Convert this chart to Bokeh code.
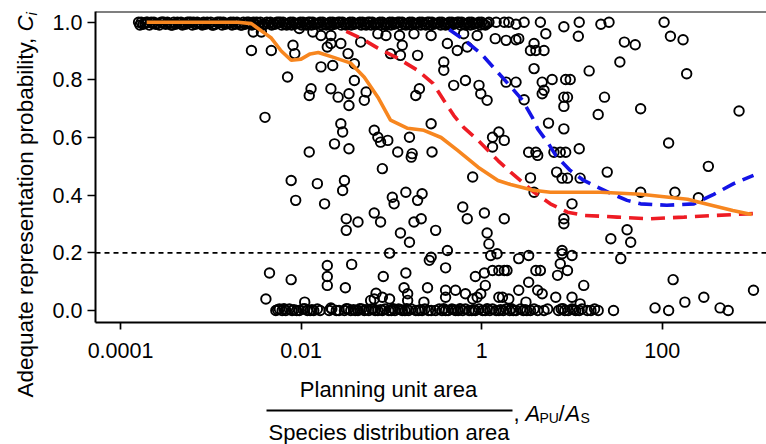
import numpy as np
from bokeh.plotting import figure
from bokeh.layouts import row, column
from bokeh.models import (ColumnDataSource, Range1d, FixedTicker, CustomJSTickFormatter, Span)
from bokeh.core.properties import value
from bokeh.embed import file_html
from bokeh.resources import INLINE

# ---------------- data (log10 of A_PU/A_S, probability C_i) ----------------
top_band = [
    (-3.80, 1.0), (-3.77, 1.0), (-3.73, 0.996), (-3.70, 1.0), (-3.66, 1.0), (-3.63, 1.0),
    (-3.59, 0.996), (-3.55, 1.0), (-3.52, 1.0), (-3.48, 1.0), (-3.44, 0.99), (-3.41, 1.0),
    (-3.37, 1.0), (-3.33, 1.0), (-3.30, 0.996), (-3.26, 1.0), (-3.22, 1.0), (-3.19, 1.0),
    (-3.15, 1.0), (-3.11, 0.996), (-3.08, 1.0), (-3.04, 1.0), (-3.00, 1.0), (-2.97, 0.99),
    (-2.93, 1.0), (-2.89, 1.0), (-2.86, 1.0), (-2.82, 0.996), (-2.78, 1.0), (-2.75, 1.0),
    (-2.71, 1.0), (-2.67, 0.99), (-2.64, 1.0), (-2.60, 1.0), (-2.56, 0.996), (-2.53, 1.0),
    (-2.49, 1.0), (-2.45, 1.0), (-2.42, 0.99), (-2.38, 1.0), (-2.34, 1.0), (-2.31, 0.996),
    (-2.27, 1.0), (-2.23, 1.0), (-2.20, 1.0), (-2.16, 0.99), (-2.12, 1.0), (-2.09, 1.0),
    (-2.05, 0.996), (-2.01, 1.0), (-1.98, 1.0), (-1.94, 0.99), (-1.90, 1.0), (-1.87, 1.0),
    (-1.83, 0.996), (-1.79, 1.0), (-1.76, 1.0), (-1.72, 0.99), (-1.68, 1.0), (-1.65, 1.0),
    (-1.61, 0.996), (-1.57, 1.0), (-1.54, 1.0), (-1.50, 0.99), (-1.46, 1.0), (-1.43, 1.0),
    (-1.39, 0.996), (-1.35, 1.0), (-1.32, 1.0), (-1.28, 0.99), (-1.24, 1.0), (-1.21, 1.0),
    (-1.17, 0.996), (-1.13, 1.0), (-1.10, 1.0), (-1.06, 0.99), (-1.02, 1.0), (-0.99, 1.0),
    (-0.95, 0.996), (-0.91, 1.0), (-0.88, 1.0), (-0.84, 0.99), (-0.80, 1.0), (-0.77, 1.0),
    (-0.73, 0.996), (-0.69, 1.0), (-0.66, 1.0), (-0.62, 0.99), (-0.58, 1.0), (-0.55, 1.0),
    (-0.51, 0.996), (-0.47, 1.0), (-0.44, 1.0), (-0.40, 0.99), (-0.36, 1.0), (-0.33, 1.0),
    (-0.29, 0.996), (-0.25, 1.0), (-0.22, 1.0), (-0.18, 0.99), (-0.14, 1.0), (-0.11, 1.0),
    (-0.07, 0.996), (-0.03, 1.0), (0.00, 1.0), (0.04, 0.99), (0.08, 1.0), (0.16, 1.0),
]

top_band_overlap = [
    (-3.785, 0.99), (-3.75, 0.993), (-3.715, 1.0), (-3.68, 0.99), (-3.645, 0.996), (-3.61, 0.993),
    (-3.57, 0.99), (-3.535, 1.0), (-3.50, 0.993), (-3.46, 0.996), (-3.425, 0.99), (-3.39, 0.993),
    (-3.35, 0.996), (-3.315, 0.99), (-3.28, 0.993), (-3.24, 1.0), (-3.205, 0.99), (-3.17, 0.993),
    (-3.13, 0.996), (-3.095, 0.99), (-3.06, 0.993), (-3.02, 0.996), (-2.985, 0.99), (-2.95, 0.993),
    (-2.91, 1.0), (-2.875, 0.99), (-2.84, 0.993), (-2.80, 0.996), (-2.765, 0.99), (-2.73, 0.993),
    (-2.69, 0.996), (-2.655, 0.99), (-2.62, 0.993), (-2.58, 1.0), (-2.545, 0.99), (-2.51, 0.993),
    (-2.47, 0.996), (-2.435, 0.99), (-2.40, 0.993), (-2.36, 0.996), (-2.325, 0.99), (-2.29, 0.993),
    (-2.25, 1.0), (-2.215, 0.99), (-2.18, 0.993), (-2.14, 0.996), (-2.105, 0.99), (-2.07, 0.993),
    (-2.03, 0.996), (-1.995, 0.99), (-1.96, 0.993), (-1.92, 1.0), (-1.885, 0.99), (-1.85, 0.993),
    (-1.81, 0.996), (-1.775, 0.99), (-1.74, 0.993), (-1.70, 0.996), (-1.665, 0.99), (-1.63, 0.993),
    (-1.59, 1.0), (-1.555, 0.99), (-1.52, 0.993), (-1.48, 0.996), (-1.445, 0.99), (-1.41, 0.993),
    (-1.37, 0.996), (-1.335, 0.99), (-1.30, 0.993), (-1.26, 1.0), (-1.225, 0.99), (-1.19, 0.993),
    (-1.15, 0.996), (-1.115, 0.99), (-1.08, 0.993), (-1.04, 0.996), (-1.005, 0.99), (-0.97, 0.993),
    (-0.93, 1.0), (-0.895, 0.99), (-0.86, 0.993), (-0.82, 0.996), (-0.785, 0.99), (-0.75, 0.993),
    (-0.71, 0.996), (-0.675, 0.99), (-0.64, 0.993), (-0.60, 1.0), (-0.565, 0.99), (-0.53, 0.993),
    (-0.49, 0.996), (-0.455, 0.99), (-0.42, 0.993), (-0.38, 0.996), (-0.345, 0.99), (-0.31, 0.993),
    (-0.27, 1.0), (-0.235, 0.99), (-0.20, 0.993), (-0.16, 0.996), (-0.125, 0.99), (-0.09, 0.993),
    (-0.05, 0.996), (-0.015, 0.99), (0.02, 0.993), (0.06, 0.996),
]

bottom_band = [
    (-2.28, 0.0), (-2.24, 0.005), (-2.21, 0.0), (-2.17, 0.0), (-2.13, 0.005), (-2.10, 0.0),
    (-2.05, 0.0), (-2.02, 0.0), (-1.98, 0.005), (-1.93, 0.0), (-1.90, 0.0), (-1.86, 0.0),
    (-1.82, 0.005), (-1.79, 0.0), (-1.69, 0.0), (-1.66, 0.005), (-1.61, 0.0), (-1.58, 0.0),
    (-1.52, 0.0), (-1.48, 0.005), (-1.45, 0.0), (-1.40, 0.0), (-1.37, 0.0), (-1.33, 0.005),
    (-1.30, 0.0), (-1.25, 0.0), (-1.22, 0.005), (-1.18, 0.0), (-1.15, 0.0), (-1.10, 0.0),
    (-1.07, 0.005), (-1.03, 0.0), (-1.00, 0.0), (-0.96, 0.0), (-0.92, 0.005), (-0.88, 0.0),
    (-0.85, 0.0), (-0.81, 0.0), (-0.78, 0.005), (-0.73, 0.0), (-0.70, 0.0), (-0.66, 0.0),
    (-0.63, 0.005), (-0.59, 0.0), (-0.56, 0.0), (-0.51, 0.0), (-0.47, 0.005), (-0.44, 0.0),
    (-0.40, 0.0), (-0.37, 0.0), (-0.33, 0.005), (-0.29, 0.0), (-0.26, 0.0), (-0.21, 0.0),
    (-0.18, 0.005), (-0.14, 0.0), (-0.11, 0.0), (-0.07, 0.0), (-0.03, 0.005), (0.01, 0.0),
    (0.04, 0.0), (0.09, 0.0), (0.12, 0.005), (0.16, 0.0), (0.19, 0.0), (0.24, 0.0),
    (0.27, 0.005), (0.31, 0.0), (0.35, 0.0), (0.38, 0.0), (0.43, 0.005), (0.46, 0.0),
    (0.50, 0.0), (0.54, 0.0), (0.58, 0.005), (0.62, 0.0), (0.69, 0.0), (0.73, 0.005),
    (0.85, 0.0), (0.88, 0.005), (0.92, 0.0), (0.96, 0.0), (1.00, 0.005), (1.04, 0.0),
    (1.08, 0.0), (1.11, 0.005), (1.17, 0.0), (1.21, 0.0), (1.25, 0.005), (1.29, 0.0),
    (-2.26, 0.003), (-2.19, 0.006), (-2.08, 0.003), (-1.96, 0.006), (-1.88, 0.003),
    (-1.50, 0.006), (-1.42, 0.003), (-1.35, 0.006), (-1.28, 0.003), (-1.20, 0.006),
    (-1.12, 0.003), (-0.98, 0.006), (-0.90, 0.003), (-0.83, 0.006), (-0.68, 0.003),
    (-0.42, 0.006), (-0.31, 0.003), (-0.24, 0.006), (-0.09, 0.003), (0.06, 0.006),
    (0.21, 0.003), (0.33, 0.006), (0.48, 0.003), (0.90, 0.006), (1.02, 0.003),
]

scattered = [
    (-2.53, 0.966), (-2.44, 0.966), (-2.02, 0.978), (-1.87, 0.966), (-1.78, 0.954), (-1.67, 0.954),
    (-1.15, 0.960), (-1.06, 0.954), (-0.91, 0.954), (-0.75, 0.960), (-0.56, 0.954), (-0.20, 0.960),
    (-0.05, 0.954), (0.15, 0.943), (0.27, 0.937),
    (-2.55, 0.902), (-2.33, 0.902), (-2.09, 0.920), (-2.07, 0.891), (-1.67, 0.926), (-1.56, 0.926),
    (-1.48, 0.891), (-1.71, 0.914), (-1.34, 0.931), (-1.01, 0.891), (-0.88, 0.920), (-0.90, 0.885),
    (-0.71, 0.885), (-0.38, 0.926), (-0.27, 0.902), (-0.16, 0.914),
    (-1.78, 0.845), (-1.65, 0.850), (-1.41, 0.856), (-0.42, 0.862), (-0.42, 0.833), (-2.15, 0.810),
    (-1.41, 0.798), (-0.18, 0.798), (-0.31, 0.781),
    (-1.89, 0.769), (-1.91, 0.746), (-1.67, 0.769), (-1.59, 0.740), (-1.47, 0.752), (-1.47, 0.711),
    (-1.28, 0.758), (-1.30, 0.729), (-0.69, 0.769), (-0.73, 0.746), (-0.03, 0.781), (-0.01, 0.752),
    (0.06, 0.729),
    (-2.40, 0.670), (-1.56, 0.648), (-1.54, 0.619), (-1.19, 0.625), (-1.15, 0.601), (-1.12, 0.584),
    (-1.04, 0.590), (-1.63, 0.578), (-1.47, 0.561), (-0.80, 0.601), (-0.56, 0.648), (0.12, 0.601),
    (0.19, 0.619), (0.25, 0.590), (0.12, 0.567),
    (-1.91, 0.550), (-0.93, 0.550), (-0.77, 0.544), (-0.78, 0.532), (-0.55, 0.550), (-1.10, 0.492),
    (-2.11, 0.451), (-1.82, 0.440), (-1.52, 0.451), (-1.54, 0.416), (-0.84, 0.410), (-0.99, 0.393),
    (-0.66, 0.405), (-0.10, 0.463),
    (0.25, 1.0), (0.30, 1.0), (0.38, 0.993), (0.47, 1.0), (0.65, 1.0), (0.91, 0.984), (1.08, 1.0),
    (1.32, 0.993), (1.41, 1.0), (2.02, 1.0),
    (0.38, 0.939), (0.41, 0.943), (0.58, 0.926), (0.54, 0.902), (0.60, 0.902), (0.69, 0.902),
    (0.71, 0.960), (1.07, 0.951), (1.58, 0.931), (1.70, 0.922), (2.09, 0.951), (2.23, 0.939),
    (0.58, 0.839), (1.19, 0.831), (1.53, 0.862), (2.27, 0.821), (0.27, 0.792), (0.38, 0.792),
    (0.67, 0.792), (0.78, 0.801), (0.93, 0.801), (0.98, 0.801),
    (0.47, 0.731), (0.67, 0.752), (0.69, 0.764), (0.91, 0.740), (0.95, 0.740), (0.91, 0.708),
    (1.36, 0.740), (1.29, 0.680), (1.76, 0.700), (2.85, 0.692),
    (0.74, 0.650), (0.91, 0.630), (2.07, 0.581), (0.52, 0.549), (0.60, 0.549), (0.62, 0.538),
    (0.80, 0.549), (0.87, 0.549), (0.93, 0.549), (1.08, 0.561),
    (2.51, 0.500), (0.83, 0.480), (0.89, 0.459), (0.95, 0.459), (1.09, 0.459), (1.39, 0.480),
    (0.54, 0.460), (0.58, 0.410), (1.76, 0.410), (2.14, 0.410), (2.40, 0.391),
    (-2.06, 0.382), (-1.74, 0.370), (-1.50, 0.318), (-1.37, 0.307), (-1.50, 0.278), (-1.19, 0.338),
    (-1.12, 0.307), (-0.97, 0.370), (-0.71, 0.382), (-0.75, 0.307), (-0.67, 0.318), (-0.90, 0.269),
    (-0.80, 0.237), (-0.51, 0.278), (-0.21, 0.359), (-0.16, 0.318), (0.03, 0.338), (0.25, 0.318),
    (0.06, 0.269), (0.08, 0.231), (0.10, 0.191), (0.17, 0.197), (-1.02, 0.199), (-0.56, 0.185),
    (-0.58, 0.174), (-0.38, 0.208), (-0.40, 0.148),
    (-2.35, 0.130), (-2.11, 0.107), (-1.71, 0.156), (-1.71, 0.118), (-1.71, 0.087), (-1.44, 0.160),
    (-1.51, 0.079), (-1.09, 0.118), (-0.84, 0.130), (-0.86, 0.079), (-0.82, 0.058), (-0.60, 0.079),
    (-2.39, 0.040), (-1.96, 0.029), (-1.67, 0.009), (-1.17, 0.060), (-1.19, 0.040), (-1.23, 0.035),
    (-1.10, 0.046), (-1.02, 0.040), (-0.82, 0.035), (-0.64, 0.029), (-0.40, 0.070), (-0.29, 0.070),
    (-0.40, 0.046), (-0.18, 0.058), (-0.10, 0.040), (-0.05, 0.046), (-0.01, 0.058), (0.04, 0.087),
    (-0.07, 0.118), (0.03, 0.130), (0.19, 0.046), (0.12, 0.139), (0.19, 0.139),
    (1.00, 0.370), (0.91, 0.318), (0.91, 0.301), (1.43, 0.249), (1.61, 0.280), (1.65, 0.237),
    (1.54, 0.180), (0.41, 0.180), (0.52, 0.191), (0.89, 0.208), (0.89, 0.197), (1.00, 0.191),
    (0.87, 0.162), (0.95, 0.139), (0.84, 0.122), (0.25, 0.139), (0.28, 0.139), (0.60, 0.139),
    (0.65, 0.139), (0.52, 0.098), (1.13, 0.087), (0.41, 0.070), (0.62, 0.070), (0.67, 0.058),
    (2.12, 0.107), (3.01, 0.070), (0.23, 0.046), (0.30, 0.040), (0.49, 0.029), (0.82, 0.046),
    (1.00, 0.046), (1.09, 0.023), (2.25, 0.029), (2.46, 0.046), (1.92, 0.009), (2.07, 0.0),
    (2.64, 0.009), (2.73, 0.0), (1.46, 0.0),
]

# smoothed curves
orange_log10 = [-3.71, -3.20, -2.70, -2.55, -2.44, -2.33, -2.22, -2.11, -2.00, -1.90, -1.81,
                -1.64, -1.45, -1.30, -1.15, -1.01, -0.82, -0.64, -0.45, -0.27, -0.04, 0.18,
                0.32, 0.57, 0.76, 1.13, 1.32, 1.76, 2.28, 2.42, 2.78, 2.99]
orange_prob = [1.0, 1.0, 1.0, 0.995, 0.970, 0.945, 0.900, 0.868, 0.872, 0.890, 0.895,
               0.878, 0.858, 0.809, 0.740, 0.660, 0.632, 0.625, 0.600, 0.556, 0.497, 0.451,
               0.437, 0.417, 0.410, 0.410, 0.410, 0.403, 0.386, 0.375, 0.347, 0.333]

red_log10 = [-1.50, -1.34, -1.15, -0.93, -0.71, -0.54, -0.42, -0.31, -0.20, -0.04, 0.18,
             0.32, 0.47, 0.58, 0.76, 0.95, 1.13, 1.50, 1.87, 2.24, 2.60, 3.01]
red_prob = [0.968, 0.945, 0.910, 0.875, 0.833, 0.788, 0.729, 0.677, 0.635, 0.590, 0.520,
            0.480, 0.440, 0.410, 0.370, 0.341, 0.330, 0.324, 0.318, 0.324, 0.330, 0.336]

blue_log10 = [-0.36, -0.20, -0.01, 0.21, 0.34, 0.45, 0.56, 0.62, 0.74, 0.82, 0.98, 1.13,
              1.28, 1.44, 1.61, 1.76, 2.05, 2.35, 2.57, 2.79, 3.01]
blue_prob = [0.975, 0.940, 0.892, 0.815, 0.770, 0.730, 0.670, 0.630, 0.579, 0.538, 0.486,
             0.451, 0.428, 0.405, 0.382, 0.370, 0.365, 0.370, 0.403, 0.440, 0.469]

threshold = 0.2
x_tick_values = [0.0001, 0.01, 1, 100]
x_tick_labels = ["0.0001", "0.01", "1", "100"]
y_tick_values = [0.0, 0.2, 0.4, 0.6, 0.8, 1.0]
y_tick_labels = ["0.0", "0.2", "0.4", "0.6", "0.8", "1.0"]

FONT = "Liberation Sans"

# ---------------- main plot ----------------
p = figure(width=726, height=372, x_axis_type="log",
           x_range=Range1d(10 ** -4.277, 10 ** 3.154), y_range=Range1d(-0.0416, 1.0371),
           output_backend="svg", toolbar_location=None,
           min_border_left=55, min_border_right=0, min_border_top=11, min_border_bottom=50)
p.outline_line_color = None
p.xgrid.visible = False
p.ygrid.visible = False
p.background_fill_color = "white"
p.border_fill_color = "white"

pts = top_band + top_band_overlap + bottom_band + scattered
src = ColumnDataSource(dict(x=[10 ** a for a, b in pts], y=[b for a, b in pts]))
p.scatter("x", "y", source=src, marker="circle", size=9.5, fill_color=None,
          line_color="black", line_width=1.9)

p.add_layout(Span(location=threshold, dimension="width", line_color="black",
                  line_width=1.6, line_dash="5 4"))

p.line([10 ** v for v in red_log10], red_prob, line_color="#EE1C24", line_width=3.6,
       line_dash="14 8")
p.line([10 ** v for v in blue_log10], blue_prob, line_color="#1414E6", line_width=3.6,
       line_dash="14 8")
p.line([10 ** v for v in orange_log10], orange_prob, line_color="#F7861F", line_width=3.6)

# top border of the box
p.add_layout(Span(location=1.0371, dimension="width", line_color="black", line_width=2))

p.xaxis.ticker = FixedTicker(ticks=x_tick_values)
p.xaxis.formatter = CustomJSTickFormatter(args=dict(vals=x_tick_values, labs=x_tick_labels), code="""
    for (let i = 0; i < vals.length; i++) {
        if (Math.abs(Math.log10(vals[i]) - Math.log10(tick)) < 1e-6) return labs[i];
    }
    return "";
""")
p.yaxis.ticker = FixedTicker(ticks=y_tick_values)
p.yaxis.formatter = CustomJSTickFormatter(args=dict(vals=y_tick_values, labs=y_tick_labels), code="""
    for (let i = 0; i < vals.length; i++) {
        if (Math.abs(vals[i] - tick) < 1e-6) return labs[i];
    }
    return "";
""")
for ax in (p.xaxis[0], p.yaxis[0]):
    ax.axis_line_width = 2
    ax.axis_line_color = "black"
    ax.major_tick_line_width = 1.7
    ax.major_tick_line_color = "black"
    ax.major_tick_in = 0
    ax.minor_tick_line_color = None
    ax.major_label_text_font = FONT
    ax.major_label_text_font_size = "21.5px"
    ax.major_label_text_font_style = "normal"
    ax.major_label_text_color = "black"
p.xaxis.major_tick_out = 7
p.xaxis.major_label_standoff = 13
p.yaxis.major_tick_out = 8
p.yaxis.major_label_standoff = 5


def blank(width, height, xr, yr):
    f = figure(width=width, height=height, x_range=Range1d(*xr), y_range=Range1d(*yr),
               output_backend="svg", toolbar_location=None, min_border=0,
               x_axis_location=None, y_axis_location=None)
    f.outline_line_color = None
    f.background_fill_color = "white"
    f.border_fill_color = "white"
    for g in f.grid:
        g.visible = False
    return f


def txt(f, x, y, text, size, italic=False, angle=0.0, align="left"):
    f.text(x=[x], y=[y], text=[text], text_font=value(FONT), text_font_size=value(f"{size}px"),
           text_font_style=value("italic" if italic else "normal"), angle=angle,
           text_align=value(align), text_baseline=value("alphabetic"), text_color="black")


# y-axis title strip (pixel coordinates, y up)
left = blank(40, 444, (0, 40), (0, 444))
txt(left, 25, 413, "Adequate representation probability, ", 22.5, angle=np.pi / 2, align="right")
txt(left, 25, 413, "C", 22.5, italic=True, angle=np.pi / 2)
txt(left, 31, 429, "i", 15, italic=True, angle=np.pi / 2)

# x-axis title strip: its frame is aligned with the main frame (page x 95..766),
# vertical range is page y 444 (bottom) .. 372 (top)
bottom = blank(726, 72, (95, 766), (444, 372))
txt(bottom, 388, 389, "Planning unit area", 22, align="center")
bottom.line(x=[266, 512], y=[410, 410], line_color="black", line_width=2)
txt(bottom, 388.5, 432, "Species distribution area", 22, align="center")
txt(bottom, 513, 413, ",", 22)
txt(bottom, 525, 413, "A", 22, italic=True)
txt(bottom, 539, 417, "PU", 14)
txt(bottom, 558, 413, "/", 22)
txt(bottom, 565, 413, "A", 22, italic=True)
txt(bottom, 580, 417, "S", 14)

layout = row(left, column(p, bottom, spacing=0), spacing=0)
open("out.html", "w").write(file_html(layout, INLINE))
